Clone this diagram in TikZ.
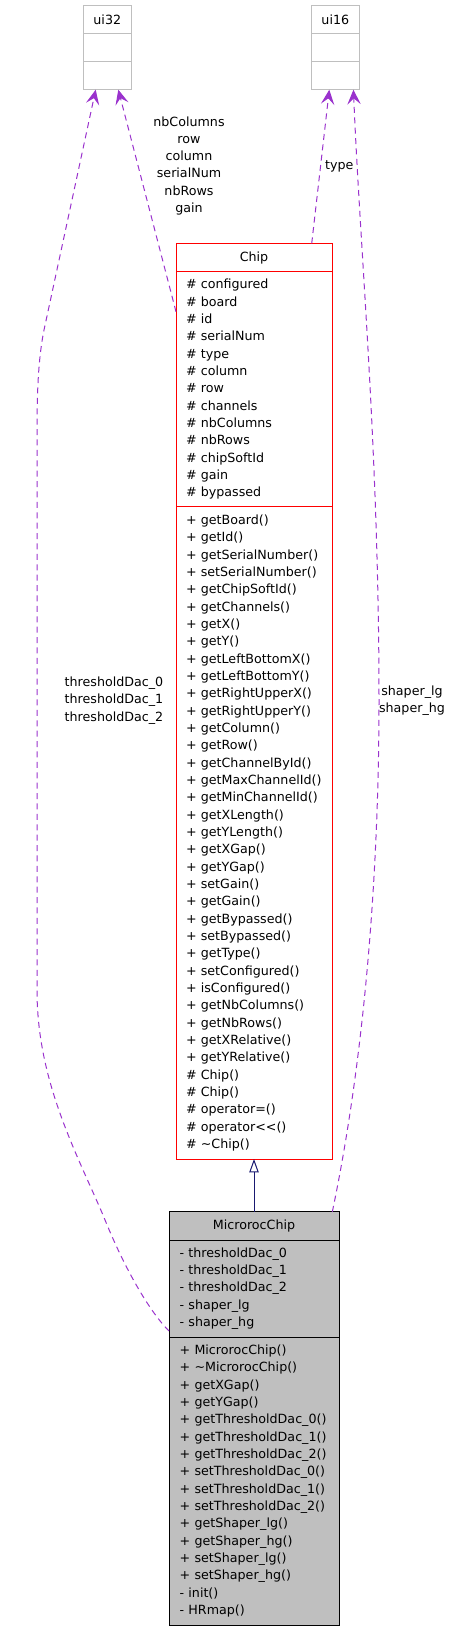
\documentclass[tikz,border=0pt]{standalone}
\usepackage{fontspec}
\setmainfont{DejaVu Sans}
\usetikzlibrary{arrows.meta,positioning}
\definecolor{depcolor}{HTML}{9A32CD}
\definecolor{inhcolor}{HTML}{191970}
\definecolor{boxgray}{HTML}{BFBFBF}
\hyphenpenalty=10000

\begin{document}
\begin{tikzpicture}[x=0.75pt, y=-0.75pt,
    part/.style={draw, outer sep=0pt, inner ysep=3pt,
        font=\fontsize{9.5}{13}\selectfont},
    chipbox/.style={part, draw=red, minimum width=117pt},
    chipmembers/.style={chipbox, align=left, text width=102pt, inner xsep=7.5pt},
    microbox/.style={part, draw=black, fill=boxgray, minimum width=127.5pt},
    micromembers/.style={microbox, align=left, text width=111.5pt, inner xsep=8pt},
    typebox/.style={part, draw=boxgray, minimum width=36pt, minimum height=21pt},
    lbl/.style={align=center, font=\fontsize{9.5}{12.9}\selectfont},
    dep/.style={draw=depcolor, line width=0.75pt, dash pattern=on 4.5pt off 3.3pt,
        -{Stealth[length=11pt, width=10pt, inset=4.5pt]}},
    inherit/.style={draw=inhcolor, line width=0.75pt,
        -{Triangle[open, length=10pt, width=7pt]}}
]
\useasboundingbox (0,0) rectangle (451,1632);

% used types
\node[typebox] (ui32) at (107.3,19.7) {ui32};
\node[typebox, below=0pt of ui32] (ui32a) {};
\node[typebox, below=0pt of ui32a] (ui32b) {};
\node[typebox] (ui16) at (335.3,19.7) {ui16};
\node[typebox, below=0pt of ui16] (ui16a) {};
\node[typebox, below=0pt of ui16a] (ui16b) {};

% base class
\node[chipbox, minimum height=21.3pt] (chip) at (254,257.5) {Chip};
\node[chipmembers, minimum height=176.25pt, below=0pt of chip] (chipattr) {\# configured\\\# board\\\# id\\\# serialNum\\\# type\\\# column\\\# row\\\# channels\\\# nbColumns\\\# nbRows\\\# chipSoftId\\\# gain\\\# bypassed};
\node[chipmembers, minimum height=489.2pt, below=0pt of chipattr] (chipops) {+ getBoard()\\+ getId()\\+ getSerialNumber()\\+ setSerialNumber()\\+ getChipSoftId()\\+ getChannels()\\+ getX()\\+ getY()\\+ getLeftBottomX()\\+ getLeftBottomY()\\+ getRightUpperX()\\+ getRightUpperY()\\+ getColumn()\\+ getRow()\\+ getChannelById()\\+ getMaxChannelId()\\+ getMinChannelId()\\+ getXLength()\\+ getYLength()\\+ getXGap()\\+ getYGap()\\+ setGain()\\+ getGain()\\+ getBypassed()\\+ setBypassed()\\+ getType()\\+ setConfigured()\\+ isConfigured()\\+ getNbColumns()\\+ getNbRows()\\+ getXRelative()\\+ getYRelative()\\\# Chip()\\\# Chip()\\\# operator=()\\\# operator<{}<()\\\# \textasciitilde Chip()};

% derived class
\node[microbox, minimum height=21.2pt] (micro) at (254,1225.85) {MicrorocChip};
\node[micromembers, minimum height=72.75pt, below=0pt of micro] (microattr) {- thresholdDac\_0\\- thresholdDac\_1\\- thresholdDac\_2\\- shaper\_lg\\- shaper\_hg};
\node[micromembers, minimum height=216pt, below=0pt of microattr] (microops) {+ MicrorocChip()\\+ \textasciitilde MicrorocChip()\\+ getXGap()\\+ getYGap()\\+ getThresholdDac\_0()\\+ getThresholdDac\_1()\\+ getThresholdDac\_2()\\+ setThresholdDac\_0()\\+ setThresholdDac\_1()\\+ setThresholdDac\_2()\\+ getShaper\_lg()\\+ getShaper\_hg()\\+ setShaper\_lg()\\+ setShaper\_hg()\\- init()\\- HRmap()};

% inheritance
\draw[inherit] (micro.north) -- (chipops.south);

% usage relations
\draw[dep] ([yshift=-30pt]chipattr.north west) -- ([xshift=8.25pt]ui32b.south);
\node[lbl] (chiplbl) at (189,165.7) {nbColumns\\row\\column\\serialNum\\nbRows\\gain};
\draw[dep] ([xshift=-15.2pt]chip.north east) -- ([xshift=-4.5pt]ui16b.south);
\node[lbl] (typelbl) at (339.3,166) {type};
\draw[dep] ([yshift=-68.25pt]microattr.north west) .. controls (150,1312) and (125,1270) .. (103,1215)
    .. controls (75,1150) and (37,1080) .. (37,990) -- (37,430)
    .. controls (37,385) and (39,355) .. (44,330) -- ([xshift=-8.7pt]ui32b.south);
\node[lbl] (daclbl) at (114,700.5) {thresholdDac\_0\\thresholdDac\_1\\thresholdDac\_2};
\draw[dep] ([xshift=-5pt]micro.north east) .. controls (360,1080) and (379,900) .. (379,700)
    .. controls (379,450) and (360,250) .. ([xshift=13.6pt]ui16b.south);
\node[lbl] (shaperlbl) at (412,700.8) {shaper\_lg\\shaper\_hg};
\end{tikzpicture}
\end{document}
